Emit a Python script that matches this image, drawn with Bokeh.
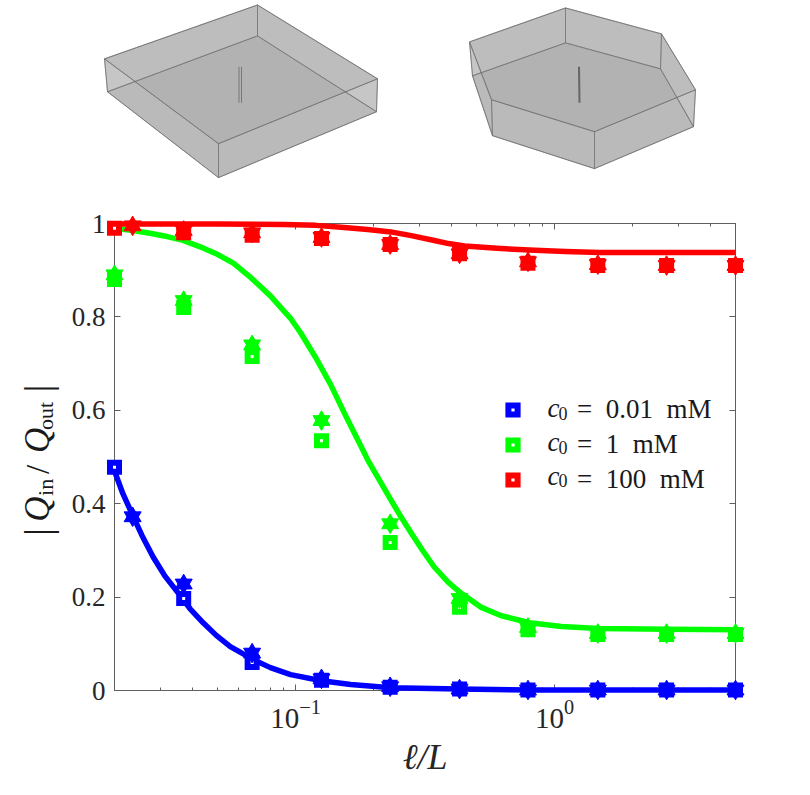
from math import pi

from bokeh.core.properties import value
from bokeh.embed import file_html
from bokeh.models import (FixedTicker, Legend, LegendItem, LinearAxis, LinearScale, LogAxis,
                          LogTickFormatter, Range1d)
from bokeh.plotting import figure
from bokeh.resources import INLINE

# measured points, shared by all the concentrations
ell = [0.02, 0.037, 0.068, 0.126, 0.232, 0.43, 0.79, 1.47, 2.71, 5.0]
ell_star_first = 0.0235

blue_squares = [0.478, 0.197, 0.060, 0.022, 0.007, 0.003, 0.001, 0.001, 0.001, 0.001]
blue_stars = [0.372, 0.228, 0.080, 0.025, 0.008, 0.003, 0.001, 0.001, 0.001, 0.001]
green_squares = [0.880, 0.820, 0.715, 0.535, 0.317, 0.178, 0.130, 0.120, 0.120, 0.120]
green_stars = [0.890, 0.835, 0.740, 0.578, 0.357, 0.197, 0.135, 0.122, 0.122, 0.122]
red_squares = [0.990, 0.980, 0.975, 0.968, 0.955, 0.935, 0.915, 0.910, 0.910, 0.910]
red_stars = [0.995, 0.985, 0.980, 0.970, 0.955, 0.935, 0.918, 0.912, 0.910, 0.910]

# model curves
blue_curve_x = [0.02, 0.02153, 0.0233, 0.02553, 0.0282, 0.03133, 0.0352, 0.03917, 0.044, 0.04943, 0.056,
                0.0688, 0.08, 0.0957, 0.126, 0.1633, 0.2334, 0.43, 0.8, 5.0]
blue_curve_y = [0.470, 0.422, 0.380, 0.332, 0.286, 0.245, 0.209, 0.175, 0.145, 0.118, 0.094,
                0.066, 0.049, 0.034, 0.021, 0.013, 0.006, 0.003, 0.001, 0.001]
green_curve_x = [0.02, 0.02355, 0.02742, 0.03193, 0.03681, 0.04285, 0.04989, 0.05752, 0.06693, 0.07998,
                 0.09563, 0.1046, 0.1196, 0.1367, 0.1563, 0.1786, 0.19, 0.2042, 0.2334, 0.2553, 0.2793,
                 0.3079, 0.3427, 0.3883, 0.4363, 0.5216, 0.6233, 0.7998, 1.064, 1.481, 2.742, 5.0]
green_curve_y = [0.990, 0.985, 0.979, 0.972, 0.964, 0.950, 0.934, 0.915, 0.885, 0.845,
                 0.797, 0.766, 0.713, 0.655, 0.588, 0.524, 0.494, 0.464, 0.408, 0.372, 0.338,
                 0.302, 0.265, 0.232, 0.208, 0.178, 0.160, 0.145, 0.137, 0.133, 0.131, 0.130]
red_curve_x = [0.02, 0.05, 0.09, 0.12, 0.15, 0.19, 0.2334, 0.28, 0.34, 0.39, 0.45, 0.6, 0.8, 1.1, 1.5, 5.0]
red_curve_y = [0.999, 0.999, 0.998, 0.996, 0.992, 0.987, 0.982, 0.974, 0.964, 0.957, 0.952, 0.947,
               0.943, 0.940, 0.938, 0.938]

y_ticks = [0, 0.2, 0.4, 0.6, 0.8, 1]
x_ticks = [0.1, 1]
x_minor = [0.03, 0.04, 0.05, 0.06, 0.07, 0.08, 0.09, 0.2, 0.3, 0.4, 0.5, 0.6, 0.7, 0.8, 0.9, 2, 3, 4, 5]

legend_labels = ["=\u20020.01\u2002mM", "=\u20021\u2002mM", "=\u2002100\u2002mM"]

# outlines of the two sketched cells, (x, y) in picture pixels
square_top = [(104, 58), (257, 4), (377, 78), (218, 143)]
square_floor = [(107, 91), (257, 35), (376, 111), (218, 177)]
hex_top = [(469, 41), (565, 7), (661, 33), (695, 89), (594, 131), (491, 99)]
hex_floor = [(472, 75), (565, 42), (660, 68), (693, 126), (594, 168), (492, 135)]

SERIF = "Liberation Serif"
AXIS_COLOR = "#5f5f5f"

p = figure(width=794, height=779, x_axis_type="log", x_range=Range1d(0.02, 5), y_range=Range1d(0, 1),
           output_backend="svg", toolbar_location=None, background_fill_color="white",
           min_border_left=114, min_border_right=59, min_border_top=223, min_border_bottom=88,
           outline_line_color=AXIS_COLOR)
p.grid.visible = False

# the sketches and the pieced-together texts are placed in picture pixels
p.extra_x_ranges["px"] = Range1d(114, 735)
p.extra_y_ranges["py"] = Range1d(691, 223)
p.extra_x_scales["px"] = LinearScale()
p.extra_y_scales["py"] = LinearScale()
PX = dict(level="overlay", x_range_name="px", y_range_name="py")


def draw_cell(top, floor):
    n = len(top)
    for i in range(n):
        j = (i + 1) % n
        wall = [top[i], top[j], floor[j], floor[i]]
        p.patch([v[0] for v in wall], [v[1] for v in wall], fill_color="#7a7a7a", fill_alpha=0.24,
                line_color="#6e6e6e", line_alpha=0.6, line_width=1, **PX)
    for face, alpha in ((floor, 0.36), (top, 0.34)):
        p.patch([v[0] for v in face], [v[1] for v in face], fill_color="#7a7a7a", fill_alpha=alpha,
                line_color="#6e6e6e", line_alpha=0.7, line_width=1, **PX)


draw_cell(square_top, square_floor)
draw_cell(hex_top, hex_floor)
for rod_x, rod_w, rod_c in [([238.5, 238.5], 1, "#777777"), ([241, 241], 1, "#777777"), ([578.5, 579], 2, "#666666")]:
    p.line(rod_x, [66, 102], line_color=rod_c, line_width=rod_w, **PX)

bottom = p.below[0]
left = p.left[0]
bottom.ticker = FixedTicker(ticks=x_ticks, minor_ticks=x_minor)
bottom.formatter = LogTickFormatter()
left.ticker = FixedTicker(ticks=y_ticks)
bottom.axis_label = "\u2113/L"
bottom.axis_label_text_font = SERIF
bottom.axis_label_text_font_style = "italic"
bottom.axis_label_text_font_size = "36px"
bottom.axis_label_text_color = "#262626"
bottom.axis_label_standoff = 6

right = LinearAxis(ticker=FixedTicker(ticks=y_ticks), major_label_text_font_size="0px",
                   major_label_text_color=None)
top = LogAxis(ticker=FixedTicker(ticks=x_ticks, minor_ticks=x_minor), major_label_text_font_size="0px",
              major_label_text_color=None)
p.add_layout(right, "right")
p.add_layout(top, "above")

for ax in [bottom, left, right, top]:
    ax.axis_line_color = AXIS_COLOR
    ax.major_tick_line_color = AXIS_COLOR
    ax.minor_tick_line_color = AXIS_COLOR
    ax.major_tick_in = 6
    ax.major_tick_out = 0
    ax.minor_tick_in = 3
    ax.minor_tick_out = 0
left.minor_tick_line_color = None
right.minor_tick_line_color = None
for ax in [bottom, left]:
    ax.major_label_text_font = SERIF
    ax.major_label_text_color = "#262626"
    ax.major_label_standoff = 9
left.major_label_text_font_size = "27px"
bottom.major_label_text_font_size = "29px"

legend_renderers = []
series = [("#0000ff", blue_curve_x, blue_curve_y, blue_squares, blue_stars, True),
          ("#00ff00", green_curve_x, green_curve_y, green_squares, green_stars, False),
          ("#ff0000", red_curve_x, red_curve_y, red_squares, red_stars, True)]
for color, cx, cy, squares, stars, star_shift in series:
    p.line(cx, cy, line_color=color, line_width=5.5, line_join="round", level="overlay")
    sq = p.scatter(ell, squares, marker="square", size=9, fill_color="white", line_color=color,
                   line_width=6, line_join="miter", level="overlay")
    legend_renderers.append(sq)
    star_x = list(ell)
    if star_shift:
        star_x[0] = ell_star_first
    # hexagram is two triangles on the same centre
    p.scatter(star_x, stars, marker="triangle", size=17, fill_color=color, line_color=color,
              line_width=1, line_join="miter", level="overlay")
    p.scatter(star_x, stars, marker="inverted_triangle", size=17, fill_color=color, line_color=color,
              line_width=1, line_join="miter", level="overlay")

legend = Legend(items=[LegendItem(label=value(t), renderers=[r]) for t, r in zip(legend_labels, legend_renderers)],
                location=(387, 195), orientation="vertical", padding=0, margin=0, spacing=4,
                glyph_width=23, glyph_height=23, label_standoff=53, border_line_color=None,
                background_fill_alpha=0, label_text_font=SERIF, label_text_font_size="27px",
                label_text_color="#1a1a1a")
p.add_layout(legend, "center")


def page_text(text, px, py, size, style="normal", angle=0.0):
    p.text([px], [py], text=[text], text_font=value(SERIF), text_font_size=value(size),
           text_font_style=style, text_color="#1a1a1a", angle=angle, text_baseline="alphabetic",
           text_align="left", **PX)


for row_y in (408, 442, 476):
    page_text("c", 547, row_y, "27px", "italic")
    page_text("0", 558, row_y + 5, "18px")

for text, py, size, style in [("|", 536, "38px", "normal"), ("Q", 522, "35px", "italic"), ("in", 496, "22px", "normal"),
                              ("/", 474, "33px", "normal"), ("Q", 453, "35px", "italic"), ("out", 430, "22px", "normal"),
                              ("|", 392, "38px", "normal")]:
    shift = 8 if size == "22px" else 0
    page_text(text, 37 + shift, py, size, style, pi / 2)

open("out.html", "w").write(file_html(p, INLINE))
